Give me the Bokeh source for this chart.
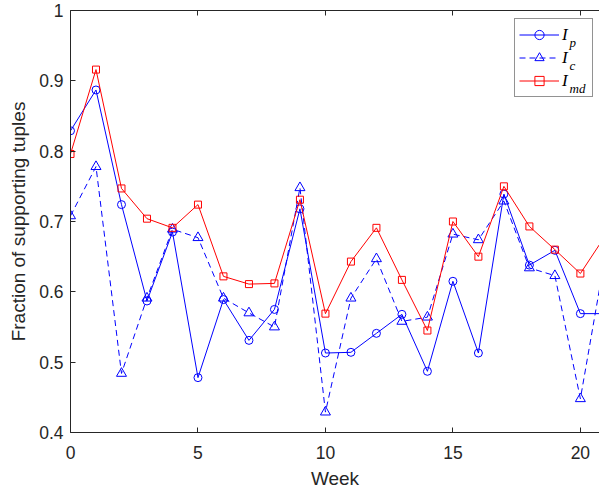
from bokeh.plotting import figure
from bokeh.models import (Range1d, LinearAxis, FixedTicker, CustomJSTickFormatter,
                          Legend, LegendItem, Label)
from bokeh.embed import file_html
from bokeh.resources import INLINE

weeks = list(range(22))
I_p = [0.829, 0.887, 0.724, 0.587, 0.685, 0.478, 0.589, 0.531, 0.575, 0.718, 0.513,
       0.514, 0.541, 0.568, 0.487, 0.615, 0.513, 0.739, 0.638, 0.659, 0.569, 0.569]
I_c = [0.708, 0.778, 0.484, 0.591, 0.689, 0.677, 0.591, 0.570, 0.550, 0.748, 0.429,
       0.591, 0.647, 0.558, 0.564, 0.682, 0.674, 0.729, 0.634, 0.623, 0.448, 0.656]
I_md = [0.796, 0.916, 0.747, 0.704, 0.691, 0.724, 0.622, 0.611, 0.612, 0.731, 0.569,
        0.643, 0.691, 0.617, 0.545, 0.700, 0.650, 0.750, 0.693, 0.660, 0.626, 0.681]
x_ticks = [0, 5, 10, 15, 20]
y_ticks = [0.4, 0.5, 0.6, 0.7, 0.8, 0.9, 1.0]
legend_subs = ["p", "c", "md"]

AX = "#262626"
FONT = "Liberation Sans"

p = figure(width=599, height=491, output_backend="svg", toolbar_location=None,
           x_range=Range1d(0, 20.75), y_range=Range1d(0.4, 1.0),
           min_border_left=70, min_border_right=0, min_border_top=10, min_border_bottom=59)
p.xgrid.visible = False
p.ygrid.visible = False
p.outline_line_color = None
p.background_fill_color = "white"

for ax in (p.xaxis[0], p.yaxis[0]):
    ax.axis_line_color = AX
    ax.major_tick_line_color = AX
    ax.major_tick_in = 5
    ax.major_tick_out = 0
    ax.minor_tick_line_color = None
    ax.major_label_text_color = AX
    ax.major_label_text_font = FONT
    ax.major_label_text_font_size = "17.5px"
    ax.axis_label_text_font = FONT
    ax.axis_label_text_font_size = "19px"
    ax.axis_label_text_font_style = "normal"
    ax.axis_label_text_color = AX

p.xaxis[0].ticker = FixedTicker(ticks=x_ticks)
p.yaxis[0].ticker = FixedTicker(ticks=y_ticks)
p.yaxis[0].formatter = CustomJSTickFormatter(code="return Number(tick.toFixed(2)).toString();")
p.xaxis[0].axis_label = "Week"
p.yaxis[0].axis_label = "Fraction of supporting tuples"
p.xaxis[0].major_label_standoff = 13
p.xaxis[0].axis_label_standoff = 6
p.yaxis[0].major_label_standoff = 7
p.yaxis[0].axis_label_standoff = 7

top = LinearAxis(ticker=FixedTicker(ticks=x_ticks), axis_line_color=AX,
                 major_tick_line_color=AX, major_tick_in=5, major_tick_out=0,
                 minor_tick_line_color=None, major_label_text_color=None,
                 major_label_text_font_size="1px")
p.add_layout(top, "above")

BLUE = "#0000ff"
RED = "#ff0000"

r_p = p.line(weeks, I_p, line_color=BLUE, line_width=1)
s_p = p.scatter(weeks, I_p, marker="circle", size=8, line_color=BLUE, fill_color=None, line_width=1)
r_c = p.line(weeks, I_c, line_color=BLUE, line_width=1, line_dash="6 4")
s_c = p.scatter(weeks, I_c, marker="triangle", size=10, line_color=BLUE, fill_color=None, line_width=1)
r_m = p.line(weeks, I_md, line_color=RED, line_width=1)
s_m = p.scatter(weeks, I_md, marker="square", size=7, line_color=RED, fill_color=None, line_width=1)

legend = Legend(items=[LegendItem(label="I", renderers=[r_p, s_p]),
                       LegendItem(label="I", renderers=[r_c, s_c]),
                       LegendItem(label="I", renderers=[r_m, s_m])],
                location=(444, 335), margin=0, padding=4, spacing=0,
                glyph_width=40, glyph_height=23, label_height=23, label_width=26,
                label_standoff=3,
                label_text_font="Liberation Serif", label_text_font_style="italic",
                label_text_font_size="17px", label_text_color="black",
                border_line_color=AX, border_line_width=1,
                background_fill_color="white", background_fill_alpha=0)
p.add_layout(legend, "center")

for i, s in enumerate(legend_subs):
    p.add_layout(Label(x=499, y=390 - 23 * i, x_units="screen", y_units="screen",
                       text=s, text_font="Liberation Serif", text_font_style="italic",
                       text_font_size="13px", text_color="black",
                       text_baseline="alphabetic", level="overlay"))

open("out.html", "w").write(file_html(p, INLINE))
